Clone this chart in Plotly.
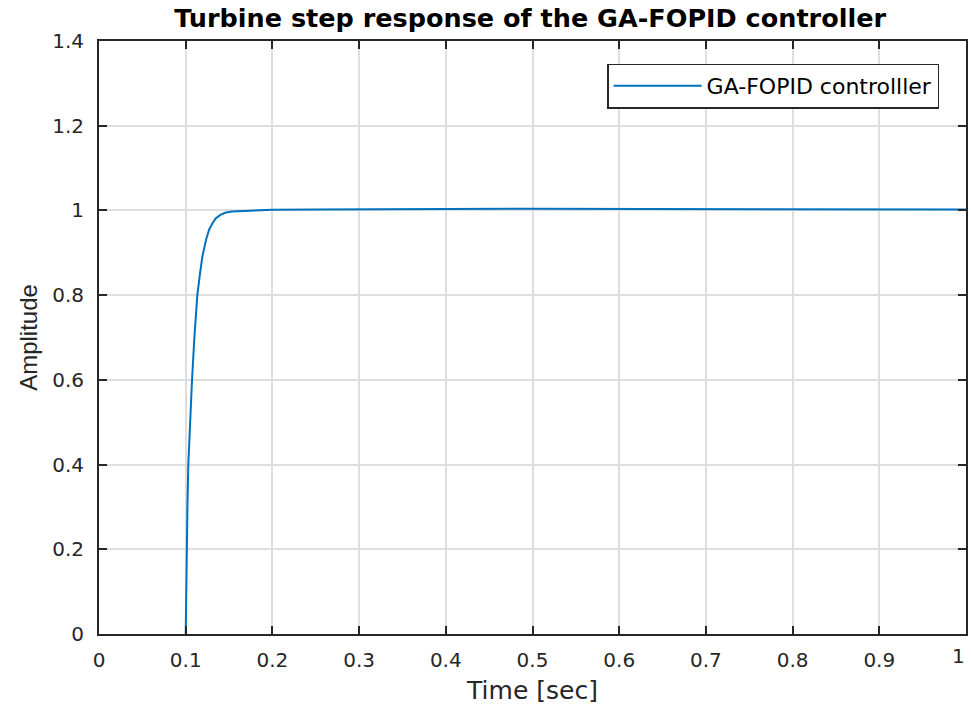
import plotly.graph_objects as go

time_s = [0.1, 0.1005, 0.1011, 0.102, 0.103, 0.105, 0.1073, 0.110, 0.1134, 0.1165,
          0.1192, 0.1234, 0.1269, 0.1307, 0.1346, 0.1396, 0.1453, 0.153, 0.1665, 0.18,
          0.2, 0.25, 0.3, 0.4, 0.5, 0.6, 0.7, 0.8, 0.9, 1.0]
amplitude = [0, 0.1, 0.2, 0.3, 0.4, 0.5, 0.6, 0.7, 0.8, 0.851,
             0.891, 0.930, 0.954, 0.969, 0.981, 0.989, 0.9945, 0.9976, 0.999, 1.0005,
             1.0015, 1.002, 1.003, 1.0035, 1.004, 1.0035, 1.003, 1.003, 1.0025, 1.002]
x_ticks = [0, 0.1, 0.2, 0.3, 0.4, 0.5, 0.6, 0.7, 0.8, 0.9, 1]
x_tick_labels = ["0", "0.1", "0.2", "0.3", "0.4", "0.5", "0.6", "0.7", "0.8", "0.9", "1"]
y_ticks = [0, 0.2, 0.4, 0.6, 0.8, 1, 1.2, 1.4]
y_tick_labels = ["0", "0.2", "0.4", "0.6", "0.8", "1", "1.2", "1.4"]

TICK_FONT = dict(family="DejaVu Sans", size=20, color="#262626")

fig = go.Figure()
fig.add_trace(go.Scatter(x=time_s, y=amplitude, mode="lines", name="GA-FOPID controlller",
                         line=dict(color="#0072BD", width=2)))

axis_common = dict(showline=True, linecolor="#262626", linewidth=2, mirror="ticks",
                   ticks="inside", ticklen=8, tickcolor="#262626", tickwidth=2,
                   showgrid=True, gridcolor="#dedede", gridwidth=1.5, zeroline=False,
                   automargin=False, tickfont=TICK_FONT, layer="above traces")

# last x tick label drawn as an annotation so it stays inside the page, as in the reference
shown_x_labels = x_tick_labels[:-1] + [""]

fig.update_layout(
    width=971, height=712,
    margin=dict(l=99, r=5, t=41, b=78, autoexpand=False),
    paper_bgcolor="white", plot_bgcolor="white",
    title=dict(text="<b>Turbine step response of the GA-FOPID controller</b>",
               x=0.546, xanchor="center", xref="container", y=0.975, yanchor="middle",
               font=dict(family="DejaVu Sans", size=25.5, color="black")),
    xaxis=dict(range=[0, 1], tickvals=x_ticks, ticktext=shown_x_labels,
               ticklabelstandoff=7,
               title=dict(text="Time [sec]", standoff=10,
                          font=dict(family="DejaVu Sans", size=25, color="#262626")),
               **axis_common),
    yaxis=dict(range=[0, 1.4], tickvals=y_ticks, ticktext=y_tick_labels,
               ticklabelstandoff=9,
               title=dict(text="Amplitude", standoff=8,
                          font=dict(family="Liberation Sans, Arial", size=24, color="#262626")),
               **axis_common),
    legend=dict(x=0.969, y=0.962, xanchor="right", yanchor="top",
                bgcolor="white", bordercolor="#262626", borderwidth=1.5,
                itemwidth=88,
                font=dict(family="DejaVu Sans", size=22, color="black")),
    showlegend=True,
    annotations=[dict(x=x_ticks[-1], xref="x", y=0, yref="paper", yanchor="top",
                      xanchor="center", xshift=-8, yshift=-8, showarrow=False,
                      text=x_tick_labels[-1], font=TICK_FONT)],
)

fig.write_html("out.html", config={"displayModeBar": False},
               post_script="document.body.style.margin='0px';document.body.style.overflow='hidden';")
